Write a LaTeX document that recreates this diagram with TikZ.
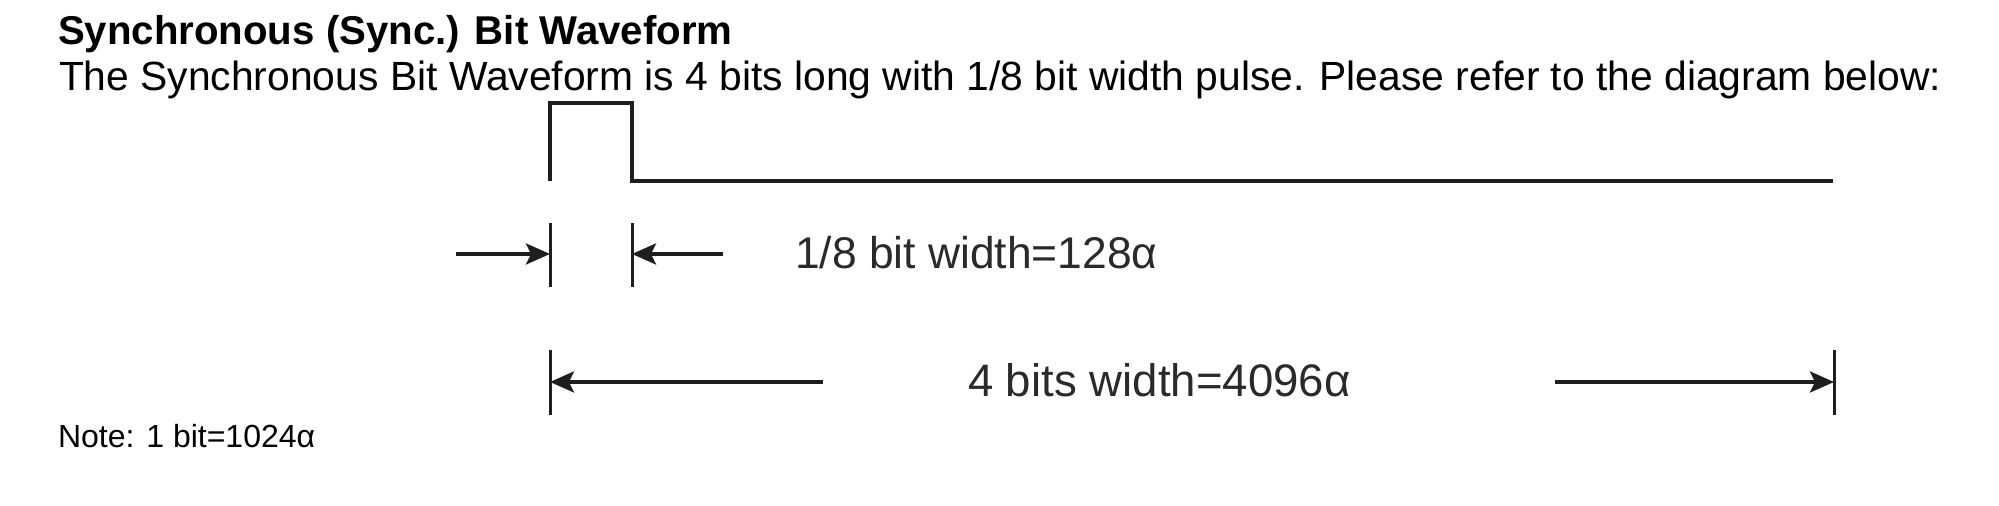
\documentclass[tikz,border=0pt]{standalone}
\usepackage{fontspec}
\setmainfont{Liberation Sans}
\usetikzlibrary{arrows.meta}
\definecolor{ink}{HTML}{1E1E1E}
\definecolor{lbl}{HTML}{2A2A2A}
\begin{document}
\begin{tikzpicture}[x=0.5pt,y=-0.5pt,
  wave/.style={line width=1.7pt, draw=ink, line join=miter},
  tickline/.style={line width=1.5pt, draw=ink},
  dimarrow/.style={line width=1.6pt, draw=ink, -{Stealth[length=12pt,width=10.5pt,inset=2.5pt]}},
  txt/.style={anchor=base west, inner sep=0pt, outer sep=0pt},
]
\useasboundingbox (0,0) rectangle (1999,506);
% texts
\node[txt, font=\fontsize{20.1}{24}\selectfont\bfseries] (title) at (58,45) {Synchronous (Sync.) Bit Waveform};
\node[txt, font=\fontsize{20.4}{24}\selectfont] (desc) at (59,91) {The Synchronous Bit Waveform is 4 bits long with 1/8 bit width pulse. Please refer to the diagram below:};
\node[txt, font=\fontsize{16}{19}\selectfont] (note) at (58,448) {Note: 1 bit=1024α};
\node[txt, text=lbl, font=\fontsize{22.2}{26}\selectfont] (lshort) at (795,269) {1/8 bit width=128α};
\node[txt, text=lbl, font=\fontsize{22.8}{26}\selectfont] (llong) at (968,397) {4 bits width=4096α};
% waveform
\coordinate (p0) at (550,181);
\coordinate (p1) at (550,103);
\coordinate (p2) at (632,103);
\coordinate (p3) at (632,181);
\coordinate (p4) at (1833,181);
\draw[wave] (p0) -- (p1) -- (p2) -- (p3) -- (p4);
% short dimension
\coordinate (ta1) at (550,223);
\coordinate (ta2) at (550,287);
\coordinate (tb1) at (632,223);
\coordinate (tb2) at (632,287);
\draw[tickline] (ta1) -- (ta2);
\draw[tickline] (tb1) -- (tb2);
\coordinate (sa) at (456,254);
\coordinate (sae) at (550,254);
\coordinate (sb) at (723,254);
\coordinate (sbe) at (632,254);
\draw[dimarrow] (sa) -- (sae);
\draw[dimarrow] (sb) -- (sbe);
% long dimension
\coordinate (tc1) at (550,350);
\coordinate (tc2) at (550,415);
\coordinate (td1) at (1834,350);
\coordinate (td2) at (1834,415);
\draw[tickline] (tc1) -- (tc2);
\draw[tickline] (td1) -- (td2);
\coordinate (la) at (823,382);
\coordinate (lae) at (550,382);
\coordinate (lb) at (1555,382);
\coordinate (lbe) at (1834,382);
\draw[dimarrow] (la) -- (lae);
\draw[dimarrow] (lb) -- (lbe);
\end{tikzpicture}
\end{document}
